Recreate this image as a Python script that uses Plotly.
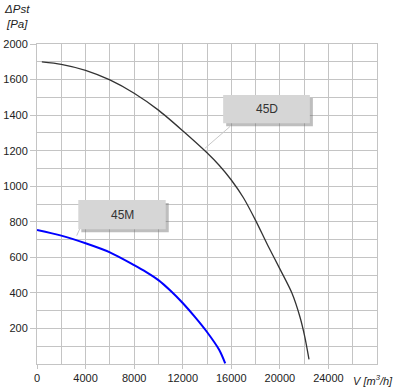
import plotly.graph_objects as go

# Data
v_45d = [400, 2000, 4000, 6000, 8000, 10000, 12000, 14000, 15000, 16000, 17000, 18000, 19000, 20000, 21000, 21650, 22050, 22400]
p_45d = [1700, 1686, 1652, 1598, 1523, 1428, 1312, 1188, 1118, 1035, 935, 808, 668, 535, 398, 266, 154, 26]

v_45m = [0, 2000, 4000, 6000, 8000, 9000, 10000, 11000, 12000, 13000, 14000, 15000, 15500]
p_45m = [754, 722, 679, 628, 556, 517, 472, 412, 343, 265, 180, 80, 4]

x_tickvals = [0, 4000, 8000, 12000, 16000, 20000, 24000]
x_ticktext = ["0", "4000", "8000", "12000", "16000", "20000", "24000"]
y_tickvals = [200, 400, 600, 800, 1000, 1200, 1400, 1600, 1800]
y_ticktext = ["200", "400", "600", "800", "1000", "1200", "1400", "1600", "2000"]

series_names = ["45D", "45M"]

FONT = "Liberation Sans, Arial, sans-serif"
GRID = "#c4c4c4"

fig = go.Figure()
fig.add_trace(go.Scatter(x=v_45d, y=p_45d, mode="lines", name=series_names[0],
                         line=dict(color="#333333", width=1.3, shape="spline", smoothing=0.8),
                         showlegend=False, hoverinfo="skip"))
fig.add_trace(go.Scatter(x=v_45m, y=p_45m, mode="lines", name=series_names[1],
                         line=dict(color="#0000ff", width=2, shape="spline", smoothing=0.8),
                         showlegend=False, hoverinfo="skip"))

shapes = []
annotations = []

def label_box(x0, x1, y0, y1, text, lx0, ly0, lx1, ly1):
    # leader line
    shapes.append(dict(type="line", xref="x", yref="y", x0=lx0, y0=ly0, x1=lx1, y1=ly1,
                       line=dict(color="#c8c8c8", width=1), layer="above"))
    # shadow
    shapes.append(dict(type="rect", xref="x", yref="y", x0=x0 + 250, x1=x1 + 250,
                       y0=y0 - 17, y1=y1 - 17, line=dict(width=0),
                       fillcolor="rgba(110,110,110,0.45)", layer="above"))
    # box
    shapes.append(dict(type="rect", xref="x", yref="y", x0=x0, x1=x1, y0=y0, y1=y1,
                       line=dict(width=0), fillcolor="#d6d6d6", layer="above"))
    annotations.append(dict(x=(x0 + x1) / 2, y=(y0 + y1) / 2, xref="x", yref="y",
                            text=text, showarrow=False,
                            font=dict(family=FONT, size=12, color="#333333")))

label_box(3400, 10600, 758, 922, series_names[1], 3540, 763, 3270, 722)
label_box(15330, 22470, 1354, 1513, series_names[0], 15885, 1335, 13827, 1213)

annotations.append(dict(x=-0.059, y=1.085, xref="paper", yref="paper",
                        text="<i>ΔPst</i><br><i>[Pa]</i>", showarrow=False,
                        xanchor="center", yanchor="middle", align="center",
                        font=dict(family=FONT, size=11.5, color="#222222")))
annotations.append(dict(x=1.053, y=-0.05, xref="paper", yref="paper",
                        text="<i>V [m<sup>3</sup>/h]</i>", showarrow=False,
                        xanchor="right", yanchor="middle",
                        font=dict(family=FONT, size=11, color="#222222")))

fig.update_layout(
    width=400, height=390,
    margin=dict(l=37, r=23, t=44, b=26, autoexpand=False),
    paper_bgcolor="white", plot_bgcolor="white",
    shapes=shapes, annotations=annotations,
    font=dict(family=FONT, size=11, color="#222222"),
)

fig.update_xaxes(range=[0, 28000], tickmode="array", tickvals=x_tickvals, ticktext=x_ticktext,
                 ticks="outside", ticklen=4, tickcolor=GRID, showgrid=True, gridcolor=GRID,
                 gridwidth=1, zeroline=False, showline=True, mirror=True, linecolor=GRID,
                 automargin=False,
                 minor=dict(tick0=0, dtick=2000, showgrid=True, gridcolor=GRID, ticks=""),
                 tickfont=dict(family=FONT, size=11, color="#222222"))
fig.update_yaxes(range=[0, 1800], tickmode="array", tickvals=y_tickvals, ticktext=y_ticktext,
                 ticks="outside", ticklen=6, tickcolor=GRID, showgrid=True, gridcolor=GRID,
                 gridwidth=1, zeroline=False, showline=True, mirror=True, linecolor=GRID,
                 automargin=False,
                 minor=dict(tick0=0, dtick=100, showgrid=True, gridcolor=GRID, ticks=""),
                 tickfont=dict(family=FONT, size=11, color="#222222"))

fig.write_html("out.html", config={"displayModeBar": False},
               post_script="document.body.style.margin='0';")
